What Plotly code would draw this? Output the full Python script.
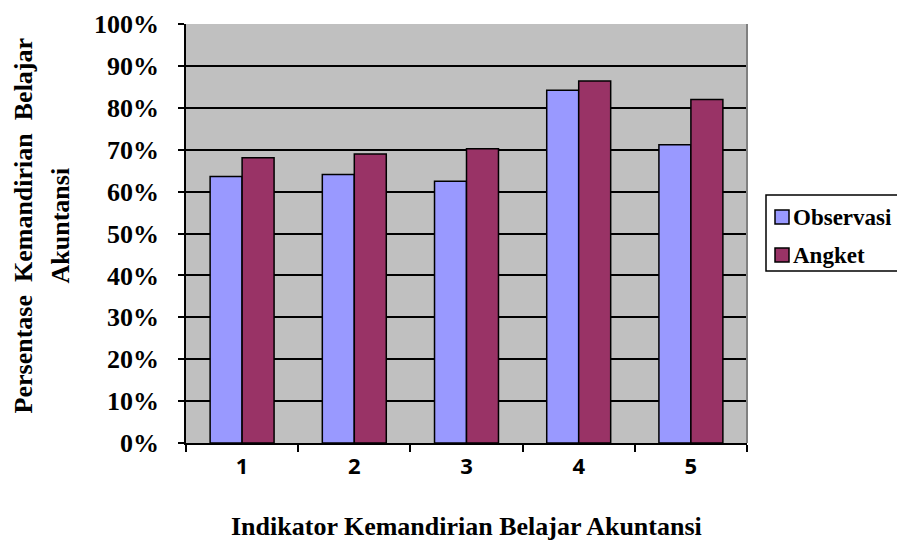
import plotly.graph_objects as go

# Dados
indikator = ["1", "2", "3", "4", "5"]
observasi = [0.636, 0.641, 0.625, 0.842, 0.712]
angket = [0.681, 0.690, 0.702, 0.864, 0.820]
y_ticks = [0, 0.1, 0.2, 0.3, 0.4, 0.5, 0.6, 0.7, 0.8, 0.9, 1.0]

series_names = ["Observasi", "Angket"]
series_colors = ["#9999FF", "#993366"]

SERIF = "Liberation Serif, Times New Roman, serif"

# A página HTML tem margem de 8px no body, então a figura é 8px menor
W, H = 897, 546
M_L, M_R, M_T, M_B = 178, 158, 16, 111
PW, PH = W - M_L - M_R, H - M_T - M_B


def px_x(x):
    # converte pixel horizontal da figura para coordenada "paper"
    return (x - M_L) / PW


def px_y(y):
    # converte pixel vertical da figura para coordenada "paper"
    return (H - M_B - y) / PH


def gerar_grafico():
    fig = go.Figure()

    # Barras das duas séries, com contorno preto
    for name, values, color in zip(series_names, [observasi, angket], series_colors):
        fig.add_trace(go.Bar(
            x=indikator, y=values, name=name,
            marker=dict(color=color, line=dict(color="black", width=1.5))
        ))

    # Título do eixo y em duas linhas (rotacionado)
    fig.add_annotation(
        xref="paper", yref="paper", x=-0.29, y=0.52,
        text="<b>Persentase  Kemandirian  Belajar</b>", textangle=-90,
        showarrow=False, xanchor="center", yanchor="middle",
        font=dict(family=SERIF, size=26, color="black")
    )
    fig.add_annotation(
        xref="paper", yref="paper", x=-0.224, y=0.52,
        text="<b>Akuntansi</b>", textangle=-90,
        showarrow=False, xanchor="center", yanchor="middle",
        font=dict(family=SERIF, size=26, color="black")
    )

    # Título do eixo x
    fig.add_annotation(
        xref="paper", yref="paper", x=0.5, y=-0.2,
        text="<b>Indikator Kemandirian Belajar Akuntansi</b>",
        showarrow=False, xanchor="center", yanchor="middle",
        font=dict(family=SERIF, size=26, color="black")
    )

    # Borda direita cinza da área do gráfico
    fig.add_shape(
        type="line", xref="paper", yref="paper", x0=1, x1=1, y0=0, y1=1,
        line=dict(color="#808080", width=2)
    )

    # Legenda desenhada à mão (caixa à direita, cortada na borda da imagem)
    fig.add_shape(
        type="rect", xref="paper", yref="paper",
        x0=px_x(758), x1=px_x(905), y0=px_y(263), y1=px_y(187),
        line=dict(color="black", width=1.5), fillcolor="white"
    )
    for i, (name, color) in enumerate(zip(series_names, series_colors)):
        cy = 209 + i * 38
        fig.add_shape(
            type="rect", xref="paper", yref="paper",
            x0=px_x(767), x1=px_x(781), y0=px_y(cy + 7), y1=px_y(cy - 7),
            line=dict(color="black", width=1.5), fillcolor=color
        )
        fig.add_annotation(
            xref="paper", yref="paper", x=px_x(783), y=px_y(cy),
            text=f"<b>{name}</b>", showarrow=False,
            xanchor="left", yanchor="middle",
            font=dict(family=SERIF, size=23, color="black")
        )

    fig.update_layout(
        width=W, height=H,
        margin=dict(l=M_L, r=M_R, t=M_T, b=M_B, autoexpand=False),
        paper_bgcolor="white",
        plot_bgcolor="#C0C0C0",
        barmode="group",
        bargap=0.43,
        bargroupgap=0,
        showlegend=False,
        xaxis=dict(
            type="category",
            showline=True, linecolor="black", linewidth=1.5,
            ticks="outside", tickson="boundaries", ticklen=7,
            tickcolor="black", tickwidth=1.5,
            ticklabelstandoff=3,
            tickfont=dict(family="Open Sans, Liberation Sans, sans-serif",
                          size=22, color="black", weight="bold"),
            showgrid=False
        ),
        yaxis=dict(
            range=[0, 1],
            tickvals=y_ticks, tickformat=".0%",
            showline=True, linecolor="black", linewidth=1.5,
            ticks="outside", ticklen=6, tickcolor="black", tickwidth=1.5,
            ticklabelstandoff=14,
            showgrid=True, gridcolor="black", gridwidth=1.5,
            tickfont=dict(family=SERIF, size=26, color="black", weight="bold"),
            zeroline=False
        )
    )

    return fig


fig = gerar_grafico()
fig.write_html("out.html")
